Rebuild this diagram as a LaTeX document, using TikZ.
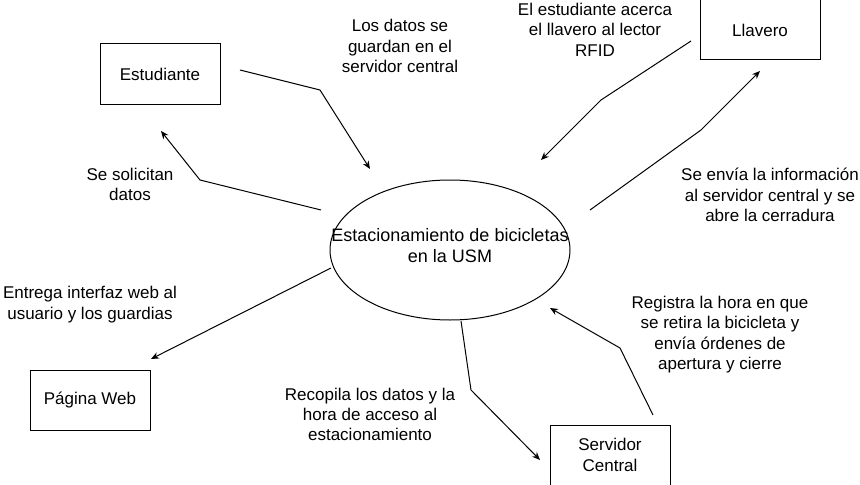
\documentclass[tikz,border=0pt]{standalone}
\usepackage{fontspec}
\setmainfont{Liberation Sans}
\usetikzlibrary{arrows.meta,shapes.geometric}
\tikzset{
  box/.style={draw=black,line width=0.75pt,minimum width=90pt,minimum height=45pt,inner sep=0pt,align=center,font=\lbl},
  oval/.style={draw=black,line width=0.75pt,ellipse,minimum width=180pt,minimum height=105pt,inner sep=0pt},
  lab/.style={align=center,inner sep=0pt,font=\lbl},
  conn/.style={draw=black,line width=0.75pt,-{Stealth[length=6pt,width=5pt,inset=2pt]}}
}
\newcommand{\lbl}{\fontsize{12.75pt}{15.3pt}\selectfont}
\newcommand{\biglbl}{\fontsize{13.5pt}{15.6pt}\selectfont}
\begin{document}
\begin{tikzpicture}[x=0.75pt,y=-0.75pt]
\useasboundingbox (0,0) rectangle (860,485);
% nodes
\node[box] (estud) at (160,74) {Estudiante};
\node[box] (llav) at (760,30) {Llavero};
\node[box] (web) at (90,400) {Página Web};
\node[box] (serv) at (610,455) {Servidor\\Central};
\node[oval] (est) at (450,250) {};
\node[lab,font=\biglbl] (estt) at (450,245.5) {Estacionamiento de bicicletas\\en la USM};
% labels
\node[lab] (l1) at (400,46) {Los datos se\\guardan en el\\servidor central};
\node[lab] (l2) at (595,29.5) {El estudiante acerca\\el llavero al lector\\RFID};
\node[lab] (l3) at (770,195) {Se envía la información\\al servidor central y se\\abre la cerradura};
\node[lab] (l4) at (130,184.5) {Se solicitan\\datos};
\node[lab] (l5) at (90,304.5) {Entrega interfaz web al\\usuario y los guardias};
\node[lab] (l6) at (370,414.5) {Recopila los datos y la\\hora de acceso al\\estacionamiento};
\node[lab] (l7) at (720,334.5) {Registra la hora en que\\se retira la bicicleta y\\envía órdenes de\\apertura y cierre};
% connector endpoints
\coordinate (a1s) at (240,70);  \coordinate (a1b) at (320,90);  \coordinate (a1e) at (370,169);
\coordinate (a2s) at (691,41);  \coordinate (a2b) at (601,100); \coordinate (a2e) at (541,160);
\coordinate (a3s) at (590,210); \coordinate (a3b) at (701,130); \coordinate (a3e) at (760,71);
\coordinate (a4s) at (321,210); \coordinate (a4b) at (200,180); \coordinate (a4e) at (161,131);
\coordinate (a5s) at (331,268); \coordinate (a5e) at (151,359);
\coordinate (a6s) at (461,321); \coordinate (a6b) at (471,390); \coordinate (a6e) at (540,460);
\coordinate (a7s) at (653,415); \coordinate (a7b) at (620,348); \coordinate (a7e) at (550,308);
% connectors
\draw[conn] (a1s) -- (a1b) -- (a1e);
\draw[conn] (a2s) -- (a2b) -- (a2e);
\draw[conn] (a3s) -- (a3b) -- (a3e);
\draw[conn] (a4s) -- (a4b) -- (a4e);
\draw[conn] (a5s) -- (a5e);
\draw[conn] (a6s) -- (a6b) -- (a6e);
\draw[conn] (a7s) -- (a7b) -- (a7e);
\end{tikzpicture}
\end{document}
